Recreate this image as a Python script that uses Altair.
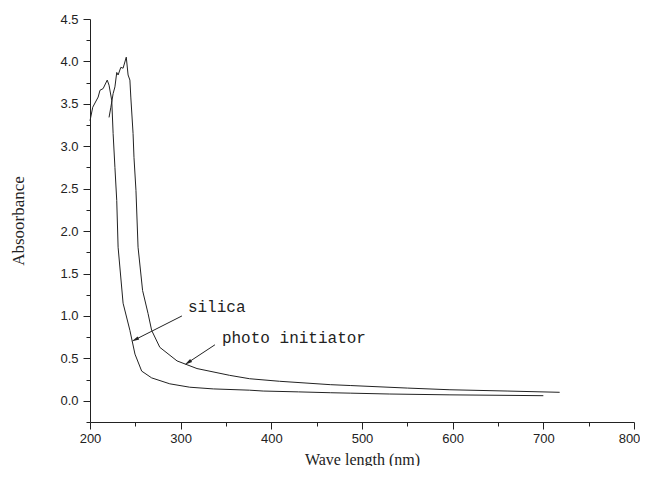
import altair as alt
import pandas as pd

# Silica absorbance curve
silica_wl = [200, 203, 209, 211, 214.5, 219, 221, 224, 225.5, 227.5, 229.5, 231, 236.5, 244, 249.6, 257, 268, 288, 310, 336, 376, 391, 430, 465, 487, 530, 597, 650, 700]
silica_abs = [3.3, 3.46, 3.58, 3.66, 3.68, 3.78, 3.72, 3.54, 3.15, 2.75, 2.36, 1.81, 1.15, 0.83, 0.55, 0.35, 0.27, 0.2, 0.16, 0.14, 0.125, 0.115, 0.105, 0.095, 0.09, 0.08, 0.07, 0.065, 0.06]

# Photo initiator absorbance curve
photo_wl = [221, 223, 225.5, 227.5, 229.5, 231, 234, 236.5, 240, 242, 244, 245, 247.5, 248.5, 250.7, 253, 258, 264, 268, 277, 296, 318, 354, 376, 409, 465, 487, 550, 597, 660, 718]
photo_abs = [3.34, 3.46, 3.62, 3.7, 3.87, 3.84, 3.93, 3.92, 4.05, 3.84, 3.78, 3.58, 3.15, 2.87, 2.48, 1.81, 1.3, 1.03, 0.83, 0.63, 0.47, 0.38, 0.3, 0.26, 0.23, 0.19, 0.18, 0.15, 0.13, 0.115, 0.1]

# Annotations (data coordinates)
ann_text = ["silica", "photo initiator"]
ann_tx = [308, 345.5]
ann_ty = [1.10, 0.74]
arrow_x1 = [301.4, 337.8]
arrow_y1 = [1.00, 0.66]
arrow_x2 = [249.6, 308.0]
arrow_y2 = [0.72, 0.45]
arrow_angle = [243, 236]

# Axis ticks
x_major = [200, 300, 400, 500, 600, 700, 800]
x_minor = [250, 350, 450, 550, 650, 750]
y_major = [0.0, 0.5, 1.0, 1.5, 2.0, 2.5, 3.0, 3.5, 4.0, 4.5]
y_minor = [-0.25, 0.25, 0.75, 1.25, 1.75, 2.25, 2.75, 3.25, 3.75, 4.25]

df = pd.concat([
    pd.DataFrame({"wl": silica_wl, "A": silica_abs, "s": "silica"}),
    pd.DataFrame({"wl": photo_wl, "A": photo_abs, "s": "photo initiator"}),
])
ann = pd.DataFrame({"text": ann_text, "x": ann_tx, "y": ann_ty,
                    "x1": arrow_x1, "y1": arrow_y1, "x2": arrow_x2, "y2": arrow_y2,
                    "ang": arrow_angle})

INK = "#222"
xscale = alt.Scale(domain=[200, 800], nice=False, zero=False)
yscale = alt.Scale(domain=[-0.25, 4.5], nice=False, zero=False)

xaxis = alt.Axis(
    values=x_major, format="d", tickSize=7,
    title="Wave length (nm)", titleFont="Liberation Serif", titleFontSize=16,
    titleFontWeight="normal", titleColor=INK, titlePadding=6,
    labelFont="Liberation Sans", labelFontSize=13, labelColor=INK, labelPadding=3,
    labelOffset={"condition": {"test": "datum.value == 800", "value": -5}, "value": 0},
    grid=False, domainColor=INK, tickColor=INK, labelFlush=False, labelOverlap=False,
)
yaxis = alt.Axis(
    values=y_major, format=".1f", tickSize=7,
    title="Absoorbance", titleFont="Liberation Serif", titleFontSize=17,
    titleFontWeight="normal", titleColor=INK, titlePadding=32,
    labelFont="Liberation Sans", labelFontSize=13, labelColor=INK, labelPadding=5,
    grid=False, domainColor=INK, tickColor=INK, labelFlush=False, labelOverlap=False,
)
xaxis_minor = alt.Axis(values=x_minor, labels=False, domain=False, tickSize=4,
                       tickColor=INK, grid=False, title=None, orient="bottom")
yaxis_minor = alt.Axis(values=y_minor, labels=False, domain=False, tickSize=4,
                       tickColor=INK, grid=False, title=None, orient="left")

lines = alt.Chart(df).mark_line(strokeWidth=1, color=INK).encode(
    x=alt.X("wl:Q", scale=xscale, axis=xaxis),
    y=alt.Y("A:Q", scale=yscale, axis=yaxis),
    detail="s:N",
    order="wl:Q",
)

minor = alt.Chart(df).mark_point(opacity=0).encode(
    x=alt.X("wl:Q", scale=xscale, axis=xaxis_minor),
    y=alt.Y("A:Q", scale=yscale, axis=yaxis_minor),
)

arrows = alt.Chart(ann).mark_rule(strokeWidth=1, color=INK).encode(
    x=alt.X("x1:Q", scale=xscale, axis=None), y=alt.Y("y1:Q", scale=yscale, axis=None),
    x2="x2:Q", y2="y2:Q",
)
heads = alt.Chart(ann).mark_point(
    shape="M0,-1L0.45,1L-0.45,1Z", filled=True, color=INK, size=60, opacity=1
).encode(
    x=alt.X("x2:Q", scale=xscale, axis=None), y=alt.Y("y2:Q", scale=yscale, axis=None),
    angle=alt.Angle("ang:Q", scale=None),
)
texts = alt.Chart(ann).mark_text(
    align="left", baseline="middle", font="Liberation Mono", fontSize=16, color=INK
).encode(
    x=alt.X("x:Q", scale=xscale, axis=None), y=alt.Y("y:Q", scale=yscale, axis=None),
    text="text:N",
)

chart = alt.layer(lines, minor, arrows, heads, texts).resolve_axis(
    x="independent", y="independent"
).properties(
    width=544, height=403,
    autosize=alt.AutoSizeParams(type="none"),
    padding={"left": 82, "top": 11, "right": 6, "bottom": 44},
    background="white",
).configure_view(stroke=None)

chart.save("out.html", embed_options={"renderer": "svg", "actions": False})
